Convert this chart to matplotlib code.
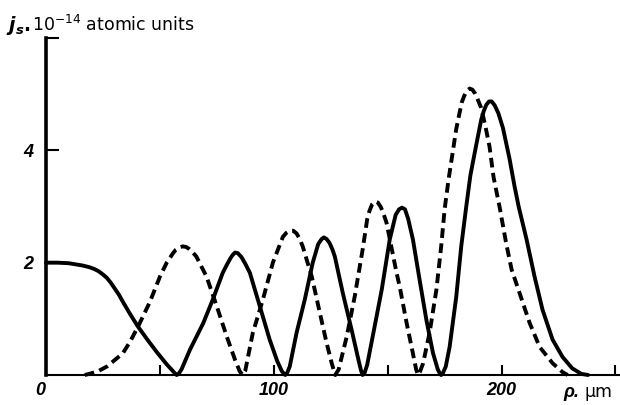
import matplotlib
matplotlib.use("Agg")
import matplotlib.pyplot as plt
import matplotlib.transforms as mtransforms

# solid curve (rho in um, j_s in 1e-14 a.u.)
solid_x = [0, 5, 10, 13, 16, 19, 21, 23, 25, 26.7, 28.5, 30, 32, 33.8, 37, 40.4, 44.5, 48.6,
           53, 55.5, 56.8, 57.4, 58.2, 59.5, 63.2, 69, 73.2, 77.6, 79.5, 81, 82, 83, 84.2,
           85.8, 87.5, 89.5, 93.9, 98.2, 101.5, 103.5, 104.5, 105, 105.7, 107, 110, 113.6,
           117.1, 119.5, 121, 122, 123.2, 124.5, 125.7, 126.8, 130.3, 134.2, 137, 138.3,
           139, 139.8, 141, 143.4, 147.4, 150.9, 153.5, 155, 156.3, 157.6, 159, 161.1, 164,
           167, 169.9, 172, 173, 173.5, 174.2, 175.5, 177.2, 180.1, 182.3, 184.5, 186.3,
           188.9, 191.1, 192.2, 193.3, 194.5, 195.7, 197, 198.6, 200.6, 203.5, 205.7,
           207.5, 211, 214.5, 218, 222.4, 226.8, 231, 235, 238]
solid_y = [2.00, 2.00, 1.99, 1.97, 1.95, 1.92, 1.89, 1.85, 1.79, 1.73, 1.64, 1.55, 1.43, 1.30,
           1.08, 0.86, 0.63, 0.41, 0.19, 0.08, 0.02, 0.0, 0.02, 0.10, 0.45, 0.92, 1.34, 1.82,
           1.97, 2.08, 2.14, 2.18, 2.17, 2.10, 1.98, 1.82, 1.22, 0.63, 0.25, 0.07, 0.02, 0.0,
           0.02, 0.15, 0.75, 1.34, 2.00, 2.33, 2.42, 2.45, 2.42, 2.35, 2.24, 2.11, 1.46,
           0.80, 0.30, 0.08, 0.0, 0.03, 0.18, 0.68, 1.52, 2.41, 2.85, 2.95, 2.98, 2.95,
           2.78, 2.41, 1.70, 0.98, 0.39, 0.10, 0.02, 0.0, 0.03, 0.15, 0.50, 1.39, 2.29,
           3.00, 3.55, 4.10, 4.55, 4.70, 4.81, 4.87, 4.87, 4.80, 4.66, 4.40, 3.85, 3.36,
           3.00, 2.41, 1.75, 1.16, 0.63, 0.32, 0.12, 0.02, 0.0]

# dashed curve (it runs along the axis before ~17 um)
dashed_x = [17, 19, 23, 26.7, 30, 33.8, 37, 40.4, 45.6, 50, 53, 55.8, 57, 58.5, 60, 61.5,
            63, 64.5, 66, 70.5, 75, 79.4, 83, 85, 86.3, 87.5, 90.8, 95.2, 99.6, 104, 105.5,
            107, 108.5, 110, 111.3, 112.7, 116.7, 120.2, 123.2, 125.5, 127, 128.5, 132,
            135.5, 139, 141, 142, 143.2, 144.5, 145.7, 147, 148.2, 149.5, 153.9, 155.3,
            158.3, 161, 162.5, 163.3, 164.2, 165.5, 168.4, 171.4, 173.5, 175, 176.8, 178.5,
            180.1, 182.5, 183.6, 184.8, 186, 187.2, 188.4, 189.6, 191, 192.8, 194.7, 196.5,
            199.1, 202, 204.4, 207.9, 212.3, 216.7, 222.4, 226.8, 229]
dashed_y = [0.0, 0.02, 0.07, 0.15, 0.26, 0.39, 0.60, 0.86, 1.30, 1.75, 2.00, 2.17, 2.23,
            2.27, 2.29, 2.28, 2.24, 2.18, 2.11, 1.75, 1.22, 0.68, 0.27, 0.07, 0.0, 0.08, 0.75,
            1.34, 2.00, 2.46, 2.53, 2.57, 2.57, 2.52, 2.43, 2.29, 1.75, 1.11, 0.57, 0.20, 0.0,
            0.10, 0.68, 1.39, 2.23, 2.77, 2.92, 3.04, 3.09, 3.07, 2.99, 2.87, 2.71, 1.82,
            1.57, 0.93, 0.40, 0.10, 0.0, 0.06, 0.20, 0.75, 1.52, 2.29, 2.95, 3.50, 3.95,
            4.38, 4.85, 4.97, 5.06, 5.10, 5.08, 5.01, 4.90, 4.76, 4.45, 4.07, 3.52, 3.00,
            2.35, 1.88, 1.46, 0.93, 0.50, 0.21, 0.05, 0.0]

x_ticks = [0, 50, 100, 150, 200, 250]
x_tick_labels = ["0", "", "100", "", "200", ""]
y_ticks = [2, 4, 6]
y_tick_labels = ["2", "4", ""]

fig = plt.figure(figsize=(6.2, 4.05), dpi=100)
ax = fig.add_axes([46 / 620, 30 / 405, 574 / 620, 337 / 405])

ax.plot(solid_x, solid_y, color="black", linewidth=2.8,
        solid_joinstyle="round", solid_capstyle="round", clip_on=False)
ax.plot(dashed_x, dashed_y, color="black", linewidth=2.8,
        linestyle=(0, (2.5, 1.4)), dash_capstyle="butt", dash_joinstyle="round",
        clip_on=False)

ax.set_xlim(0, 252)
ax.set_ylim(0, 6)

for side in ["top", "right"]:
    ax.spines[side].set_visible(False)
ax.spines["left"].set_linewidth(2.6)
ax.spines["bottom"].set_linewidth(1.5)

tick_font = {"family": "Liberation Sans", "weight": "bold", "style": "italic", "size": 13}
ax.set_xticks(x_ticks)
ax.set_xticklabels(x_tick_labels, fontdict=tick_font)
ax.set_yticks(y_ticks)
ax.set_yticklabels(y_tick_labels, fontdict=tick_font)
ax.tick_params(axis="x", direction="in", length=7, width=1.5, pad=5)
ax.tick_params(axis="y", direction="in", length=9, width=1.5, pad=9)

# the "0" label sits a little left of the axis in the original
shift = mtransforms.ScaledTranslation(-6 / 100, 0, fig.dpi_scale_trans)
lbl0 = ax.get_xticklabels()[0]
lbl0.set_transform(lbl0.get_transform() + shift)

# axis titles
fig.text(6 / 620, 1 - 31 / 405, r"$\mathbfit{j}_{\mathbfit{s}}\mathbf{.}$",
         fontsize=13.5, va="baseline", ha="left")
fig.text(32 / 620, 1 - 31 / 405, r"$10^{-14}$ atomic units",
         fontsize=12.5, va="baseline", ha="left")
fig.text(563 / 620, 8 / 405, "ρ.", family="Liberation Sans", weight="bold",
         style="italic", fontsize=13, va="baseline", ha="left")
fig.text(584 / 620, 8 / 405, "µm", fontsize=12.5, va="baseline", ha="left")

fig.savefig("out.png", dpi=100)
